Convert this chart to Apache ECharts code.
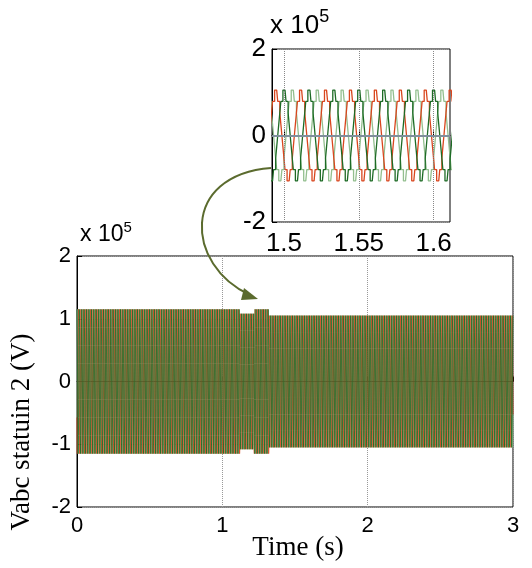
<!DOCTYPE html>
<html>
<head>
<meta charset="utf-8">
<script src="https://cdn.jsdelivr.net/npm/echarts@6/dist/echarts.min.js"></script>
<style>html,body{margin:0;padding:0;background:#fff}#c{width:532px;height:568px}</style>
</head>
<body>
<div id="c"></div>
<script>
// ---- data ----
// one cycle of the stepped (multilevel) phase voltage, per-unit of peak
const cycleLevels = [0, 0.25, 0.5, 0.75, 0.75, 1, 1, 1, 0.75, 0.75, 0.5, 0.25,
                     0, -0.25, -0.5, -0.75, -0.75, -1, -1, -1, -0.75, -0.75, -0.5, -0.25];
const freqHz = 60;                       // period (~0.0167 s)
const phaseShift = { A: 14, B: 6, C: 22 }; // sample offsets of the three phases (120° apart)
// amplitude envelope (x 10^5 V)
const envelopeTimes = [0, 1.12, 1.22, 1.32, 3.0];
const envelopeAmps  = [1.15, 1.08, 1.15, 1.05];
const mainXTicks = [0, 1, 2, 3];
const mainYTicks = [-2, -1, 0, 1, 2];
const insetXTicks = [1.5, 1.55, 1.6];
const insetYTicks = [-2, 0, 2];
const insetRange = [1.492, 1.611];

// ---- build series from the read cycle ----
const spc = cycleLevels.length;
const dt = 1 / (freqHz * spc);
const nSamp = Math.round(3 / dt);
function amp(t) {
  for (let k = 0; k < envelopeAmps.length; k++) {
    if (t < envelopeTimes[k + 1]) return envelopeAmps[k];
  }
  return envelopeAmps[envelopeAmps.length - 1];
}
function phaseData(off) {
  const d = [];
  for (let i = 0; i <= nSamp; i++) {
    const t = i * dt;
    d.push([t, amp(t) * cycleLevels[(i + off) % spc]]);
  }
  return d;
}
const dataA = phaseData(phaseShift.A);
const dataB = phaseData(phaseShift.B);
const dataC = phaseData(phaseShift.C);
const insetSlice = d => d.filter(p => p[0] >= insetRange[0] - 0.01 && p[0] <= insetRange[1] + 0.01);

const colA = '#d9461e', colB = '#1d6b25', colC = '#93bf8f';
const sans = 'Liberation Sans, Arial, sans-serif';
const serif = 'Liberation Serif, Times New Roman, serif';

const chart = echarts.init(document.getElementById('c'), null, { renderer: 'canvas' });

function lineSeries(name, data, color, xi, w) {
  return { name, type: 'line', xAxisIndex: xi, yAxisIndex: xi, data, step: 'end',
    showSymbol: false, symbol: 'none', silent: true, animation: false,
    lineStyle: { color, width: w }, clip: true };
}

const option = {
  animation: false,
  backgroundColor: '#fff',
  grid: [
    { left: 77, right: 19, top: 256, bottom: 61, show: true, borderColor: '#000', borderWidth: 1, backgroundColor: 'transparent' },
    { left: 272, right: 82, top: 49, bottom: 346, show: true, borderColor: '#000', borderWidth: 1, backgroundColor: '#fff' }
  ],
  xAxis: [
    { type: 'value', gridIndex: 0, min: 0, max: 3, interval: 1,
      axisLine: { show: true, lineStyle: { color: '#000' } },
      axisTick: { inside: true, length: 5, lineStyle: { color: '#000' } },
      axisLabel: { color: '#000', fontSize: 22, fontFamily: sans, margin: 8 },
      splitLine: { show: true, lineStyle: { color: '#999', type: 'dotted', width: 1 } } },
    { type: 'value', gridIndex: 1, min: insetRange[0], max: insetRange[1],
      axisLine: { show: true, lineStyle: { color: '#000' } },
      axisTick: { inside: true, length: 5, customValues: insetXTicks, lineStyle: { color: '#000' } },
      axisLabel: { color: '#000', fontSize: 26, fontFamily: sans, margin: 9, customValues: insetXTicks,
        formatter: v => String(+v.toFixed(2)) },
      splitLine: { show: false } }
  ],
  yAxis: [
    { type: 'value', gridIndex: 0, min: -2, max: 2, interval: 1,
      axisLine: { show: true, lineStyle: { color: '#000' } },
      axisTick: { show: true, inside: true, length: 5, lineStyle: { color: '#000' } },
      axisLabel: { color: '#000', fontSize: 22, fontFamily: sans, margin: 6 },
      splitLine: { show: true, lineStyle: { color: '#999', type: 'dotted', width: 1 } } },
    { type: 'value', gridIndex: 1, min: -2, max: 2, interval: 2,
      axisLine: { show: true, lineStyle: { color: '#000' } },
      axisTick: { show: true, inside: true, length: 5, lineStyle: { color: '#000' } },
      axisLabel: { color: '#000', fontSize: 26, fontFamily: sans, margin: 6 },
      splitLine: { show: true, lineStyle: { color: '#999', type: 'dotted', width: 1 } } }
  ],
  series: [
    lineSeries('Vc', dataC, colC, 0, 0.8),
    lineSeries('Va', dataA, colA, 0, 0.8),
    lineSeries('Vb', dataB, colB, 0, 0.8),
    Object.assign(lineSeries('Vc-inset', insetSlice(dataC), colC, 1, 1.3), {
      markLine: { silent: true, symbol: 'none', animation: false, label: { show: false },
        data: [
          { yAxis: 0, lineStyle: { color: '#7f8f9c', type: 'solid', width: 2 } },
          ...insetXTicks.map(v => ({ xAxis: v, lineStyle: { color: '#888', type: 'dotted', width: 1 } }))
        ] } }),
    lineSeries('Va-inset', insetSlice(dataA), colA, 1, 1.3),
    lineSeries('Vb-inset', insetSlice(dataB), colB, 1, 1.3)
  ],
  graphic: [
    { type: 'text', left: 80, top: 220, style: { rich: { b: { fontSize: 23, fontFamily: sans, fill: '#000' }, s: { fontSize: 15, fontFamily: sans, fill: '#000', padding: [0,0,14,0] } }, text: '{b|x 10}{s|5}' } },
    { type: 'text', left: 270, top: 8, style: { rich: { b: { fontSize: 26, fontFamily: sans, fill: '#000' }, s: { fontSize: 18, fontFamily: sans, fill: '#000', padding: [0,0,17,0] } }, text: '{b|x 10}{s|5}' } },
    { type: 'text', x: 298, y: 548, style: { text: 'Time (s)', fontSize: 27, fontFamily: serif, fill: '#000', align: 'center', verticalAlign: 'middle' } },
    { type: 'text', x: 22, y: 432, rotation: Math.PI / 2, style: { text: 'Vabc statuin 2 (V)', fontSize: 27, fontFamily: serif, fill: '#000', align: 'center', verticalAlign: 'middle' } },
    { type: 'bezierCurve', shape: { x1: 271, y1: 168, cpx1: 180, cpy1: 175, cpx2: 185, cpy2: 265, x2: 250, y2: 295 },
      style: { stroke: '#5b6b2e', lineWidth: 2, fill: null }, z: 100 },
    { type: 'polygon', shape: { points: [[258, 299], [244, 288], [241, 300]] }, style: { fill: '#5b6b2e' }, z: 100 }
  ]
};
chart.setOption(option);
</script>
</body>
</html>
